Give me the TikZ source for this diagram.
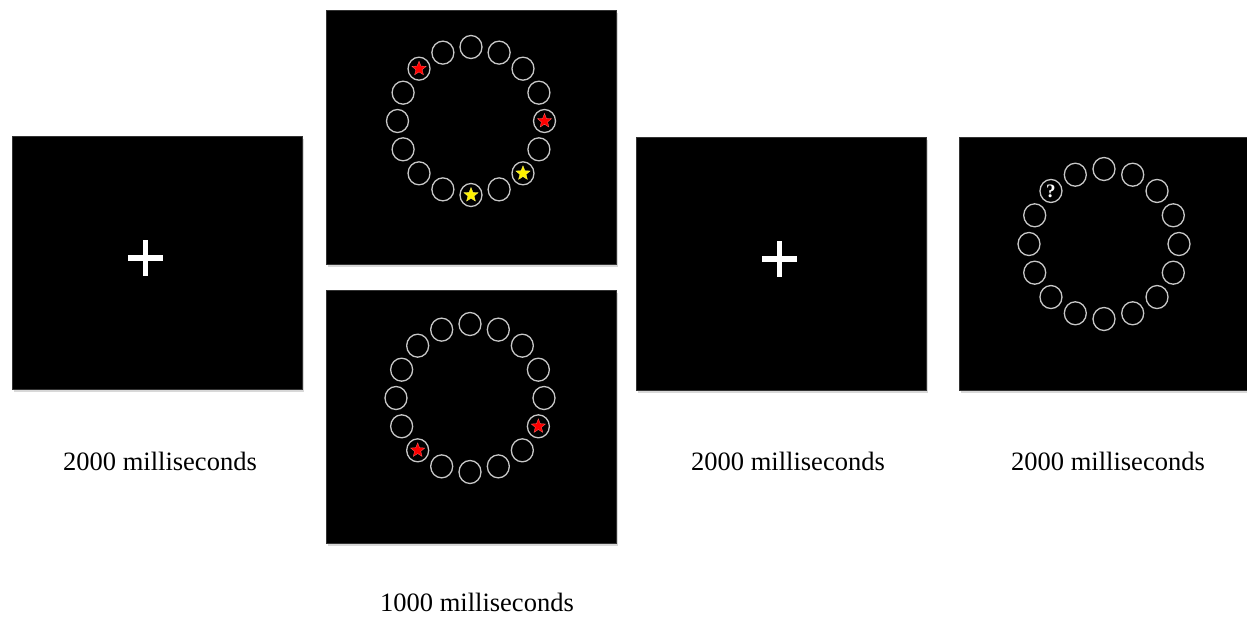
\documentclass[tikz,border=0pt]{standalone}
\usepackage{fontspec}
\setmainfont{Liberation Serif}
\usetikzlibrary{shapes.geometric,shadows}
\begin{document}
\begin{tikzpicture}[x=1pt,y=-1pt,
  panel/.style={rectangle,fill=black,draw=black!80,line width=1pt,inner sep=0pt,
    minimum width=290pt,minimum height=253pt,
    drop shadow={opacity=0.3,shadow xshift=1.5pt,shadow yshift=-2.5pt}},
  slot/.style={ellipse,draw=black!22,line width=1.3pt,inner sep=0pt,minimum width=22pt,minimum height=23pt},
  starred/.style={star,star points=5,star point ratio=2.3,fill=red,draw=red!60!white,line width=0.3pt,inner sep=0pt,minimum size=15pt},
  staryel/.style={star,star points=5,star point ratio=2.3,fill=yellow,draw=yellow!60!white,line width=0.3pt,inner sep=0pt,minimum size=15pt},
  crossline/.style={white,line width=5.5pt},
  caption/.style={font=\fontsize{26.5}{30}\selectfont,anchor=base,inner sep=0pt}]
\useasboundingbox (0,0) rectangle (1247,616);
\fill[white] (0,0) rectangle (1247,616);
% panels
\node[panel] (p1) at (157,262.5) {};
\node[panel,minimum height=254pt] (p2) at (471,137) {};
\node[panel] (p3) at (471,416.5) {};
\node[panel] (p4) at (781,263.5) {};
\node[panel,minimum width=288pt] (p5) at (1103,263.5) {};
% fixation crosses
\coordinate (c1l) at (128,258); \coordinate (c1r) at (163,258);
\coordinate (c1t) at (145.5,240); \coordinate (c1b) at (145.5,276);
\draw[crossline] (c1l) -- (c1r);
\draw[crossline] (c1t) -- (c1b);
\coordinate (c4l) at (762,259); \coordinate (c4r) at (797,259);
\coordinate (c4t) at (779.5,241); \coordinate (c4b) at (779.5,277);
\draw[crossline] (c4l) -- (c4r);
\draw[crossline] (c4t) -- (c4b);
% rings
\foreach \i in {0,...,15}{
  \node[slot] (a\i) at ({471+73.5*cos(22.5*\i)},{121-74*sin(22.5*\i)}) {};
  \node[slot] (b\i) at ({470+74*cos(22.5*\i)},{398-74*sin(22.5*\i)}) {};
  \node[slot] (d\i) at ({1104+75*cos(22.5*\i)},{244-75*sin(22.5*\i)}) {};
}
% stars in first memory display
\node[starred] (sa6) at (a6) {};
\node[starred] (sa0) at (a0) {};
\node[staryel] (sa14) at (a14) {};
\node[staryel] (sa12) at (a12) {};
% stars in second memory display
\node[starred] (sb15) at (b15) {};
\node[starred] (sb10) at (b10) {};
% probe
\node[text=white,font=\fontsize{19}{19}\selectfont\bfseries,inner sep=0pt] (q) at (d6) {?};
% captions
\node[caption] (t1) at (160,470) {2000 milliseconds};
\node[caption] (t3) at (477,611) {1000 milliseconds};
\node[caption] (t4) at (788,470) {2000 milliseconds};
\node[caption] (t5) at (1108,470) {2000 milliseconds};
\end{tikzpicture}
\end{document}
